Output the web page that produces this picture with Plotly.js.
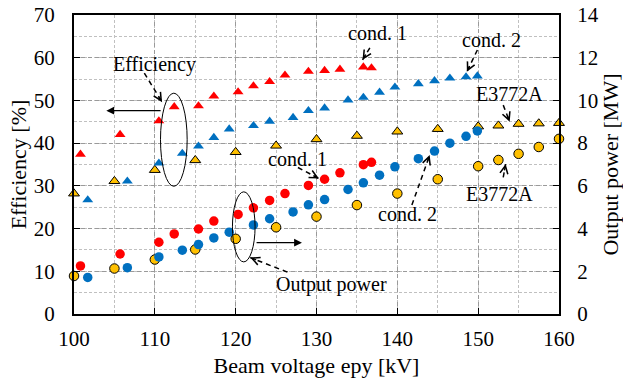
<!DOCTYPE html>
<html><head><meta charset="utf-8">
<script src="https://cdn.plot.ly/plotly-3.0.1.min.js"></script>
<style>html,body{margin:0;padding:0;background:#fff}#chart{width:623px;height:378px}</style>
</head><body><div id="chart"></div>
<script>
// cond. 1
const cond1Voltage = [100.8,105.7,110.5,112.4,115.4,117.3,120.3,122.2,124.2,126.1,129.0,131.0,132.9,135.8,136.8];
const cond1Efficiency = [37.4,42.0,45.2,48.5,48.7,51.0,52.0,53.4,54.4,55.9,56.8,57.0,57.3,57.8,57.6];
const cond1Power = [2.25,2.81,3.36,3.75,3.98,4.35,4.66,4.97,5.32,5.64,6.02,6.31,6.61,6.99,7.10];
// cond. 2
const cond2Voltage = [101.7,106.6,110.5,113.4,115.4,117.3,119.2,122.2,124.2,127.1,129.0,131.0,133.9,135.8,137.8,139.7,142.6,144.6,146.5,148.5,149.9];
const cond2Efficiency = [26.7,31.1,35.3,37.6,39.3,41.3,43.3,44.1,45.1,46.0,47.6,48.2,50.1,50.7,51.9,53.1,53.9,54.6,55.2,55.5,55.7];
const cond2Power = [1.71,2.17,2.67,2.99,3.25,3.56,3.83,4.17,4.46,4.78,5.11,5.36,5.83,6.14,6.50,6.89,7.27,7.63,8.00,8.32,8.57];
// E3772A
const e3772aVoltage = [100,105,110,115,120,125,130,135,140,145,150,152.5,155,157.5,160];
const e3772aEfficiency = [28.2,31.1,33.7,36.0,37.9,39.4,40.9,41.7,42.7,43.3,43.9,44.1,44.5,44.6,44.7];
const e3772aPower = [1.78,2.13,2.55,3.02,3.52,4.06,4.56,5.10,5.64,6.31,6.92,7.21,7.50,7.82,8.20];

const xTicks = [100,110,120,130,140,150,160];
const effTicks = [0,10,20,30,40,50,60,70];
const powerTicks = [0,2,4,6,8,10,12,14];

const RED = '#FF0000', BLUE = '#0070C0', GOLD = '#FFC000';
const FONT = '"Liberation Serif", "Times New Roman", serif';

function tri(x, y, color, outline) {
  return {x: x, y: y, type: 'scatter', mode: 'markers', cliponaxis: false, yaxis: 'y',
    marker: {symbol: 'triangle-up', size: 9.5, color: color, line: {width: outline ? 1 : 0, color: '#000'}}};
}
function dot(x, y, color, outline) {
  return {x: x, y: y, type: 'scatter', mode: 'markers', cliponaxis: false, yaxis: 'y2',
    marker: {symbol: 'circle', size: 9.5, color: color, line: {width: outline ? 1 : 0, color: '#000'}}};
}

const data = [
  tri(e3772aVoltage, e3772aEfficiency, GOLD, true),
  tri(cond2Voltage, cond2Efficiency, BLUE, false),
  tri(cond1Voltage, cond1Efficiency, RED, false),
  dot(e3772aVoltage, e3772aPower, GOLD, true),
  dot(cond2Voltage, cond2Power, BLUE, false),
  dot(cond1Voltage, cond1Power, RED, false)
];

// pixel scale of axes (for arrowhead direction only)
const PXX = 485/60, PXY = 298.7/70;
const shapes = [
  {type: 'circle', xref: 'x', yref: 'y', x0: 110.7, x1: 114.0, y0: 29.9, y1: 51.7, line: {color: '#000', width: 1}},
  {type: 'circle', xref: 'x', yref: 'y', x0: 119.6, x1: 122.4, y0: 12.2, y1: 28.6, line: {color: '#000', width: 1}}
];
const annotations = [];
function txt(x, y, s) {
  annotations.push({x: x, y: y, xref: 'x', yref: 'y', text: s, showarrow: false,
    font: {family: FONT, size: 20, color: '#000'}});
}
function dashedArrow(x0, y0, x1, y1) {
  shapes.push({type: 'line', xref: 'x', yref: 'y', x0: x0, y0: y0, x1: x1, y1: y1,
    line: {color: '#000', width: 1.5, dash: '5px,4px'}});
  const dx = (x1 - x0) * PXX, dy = -(y1 - y0) * PXY;
  const L = Math.sqrt(dx*dx + dy*dy);
  annotations.push({x: x1, y: y1, xref: 'x', yref: 'y', text: '', showarrow: true,
    ax: -dx / L * 8, ay: -dy / L * 8, arrowhead: 5, arrowsize: 1.2, arrowwidth: 1.3, arrowcolor: '#000'});
}
function solidArrow(x0, y0, x1, y1) {
  annotations.push({x: x1, y: y1, xref: 'x', yref: 'y', axref: 'x', ayref: 'y', ax: x0, ay: y0,
    text: '', showarrow: true, arrowhead: 2, arrowsize: 1.3, arrowwidth: 1.2, arrowcolor: '#000'});
}

txt(110.0, 58.5, 'Efficiency');
dashedArrow(108.7, 56.4, 110.9, 49.6);
solidArrow(110.9, 47.6, 104.0, 47.6);
txt(131.9, 7.0, 'Output power');
dashedArrow(126.4, 9.8, 121.8, 13.2);
solidArrow(122.4, 16.7, 128.2, 16.7);
txt(137.5, 65.7, 'cond. 1');
dashedArrow(136.6, 62.3, 135.7, 59.5);
txt(151.6, 64.1, 'cond. 2');
dashedArrow(149.9, 61.8, 148.6, 56.7);
txt(153.9, 51.4, 'E3772A');
dashedArrow(153.1, 48.9, 153.9, 45.0);
txt(127.6, 36.4, 'cond. 1');
dashedArrow(127.7, 34.3, 130.3, 31.7);
txt(141.3, 23.5, 'cond. 2');
dashedArrow(141.8, 25.5, 144.0, 37.2);
txt(152.6, 28.2, 'E3772A');
dashedArrow(153.1, 32.0, 153.4, 35.1);

const axisCommon = {
  showline: true, linecolor: '#000', linewidth: 2, ticks: 'inside', ticklen: 6, tickwidth: 1, tickcolor: '#000',
  zeroline: false, tickfont: {family: FONT, size: 21, color: '#000'}
};

const layout = {
  width: 623, height: 378,
  margin: {l: 74, r: 64, t: 15, b: 64},
  paper_bgcolor: '#fff', plot_bgcolor: '#fff',
  font: {family: FONT, size: 21, color: '#000'},
  showlegend: false,
  xaxis: Object.assign({}, axisCommon, {
    range: [100, 160], tickvals: xTicks, ticktext: xTicks.map(String), mirror: true,
    showgrid: true, gridcolor: '#9a9a9a', griddash: '4px,3px', gridwidth: 1,
    minor: {dtick: 5, tick0: 100, showgrid: true, gridcolor: '#c0c0c0', griddash: '3px,2px', ticks: ''},
    ticklabelstandoff: 5,
    title: {text: 'Beam voltage epy [kV]', font: {family: FONT, size: 22}, standoff: 9}
  }),
  yaxis: Object.assign({}, axisCommon, {
    range: [0, 70], tickvals: effTicks, ticktext: effTicks.map(String), mirror: true,
    showgrid: true, gridcolor: '#9a9a9a', griddash: '4px,3px', gridwidth: 1,
    minor: {dtick: 5, tick0: 0, showgrid: true, gridcolor: '#c0c0c0', griddash: '3px,2px', ticks: ''},
    ticklabelstandoff: 13,
    title: {text: 'Efficiency [%]', font: {family: FONT, size: 22}, standoff: 1}
  }),
  yaxis2: Object.assign({}, axisCommon, {
    range: [0, 14], tickvals: powerTicks, ticktext: powerTicks.map(String), overlaying: 'y', side: 'right',
    showgrid: false, ticklabelstandoff: 12,
    title: {text: 'Output power [MW]', font: {family: FONT, size: 22}, standoff: 6}
  }),
  shapes: shapes,
  annotations: annotations
};

Plotly.newPlot('chart', data, layout, {displayModeBar: false, staticPlot: true});
</script>
</body></html>
